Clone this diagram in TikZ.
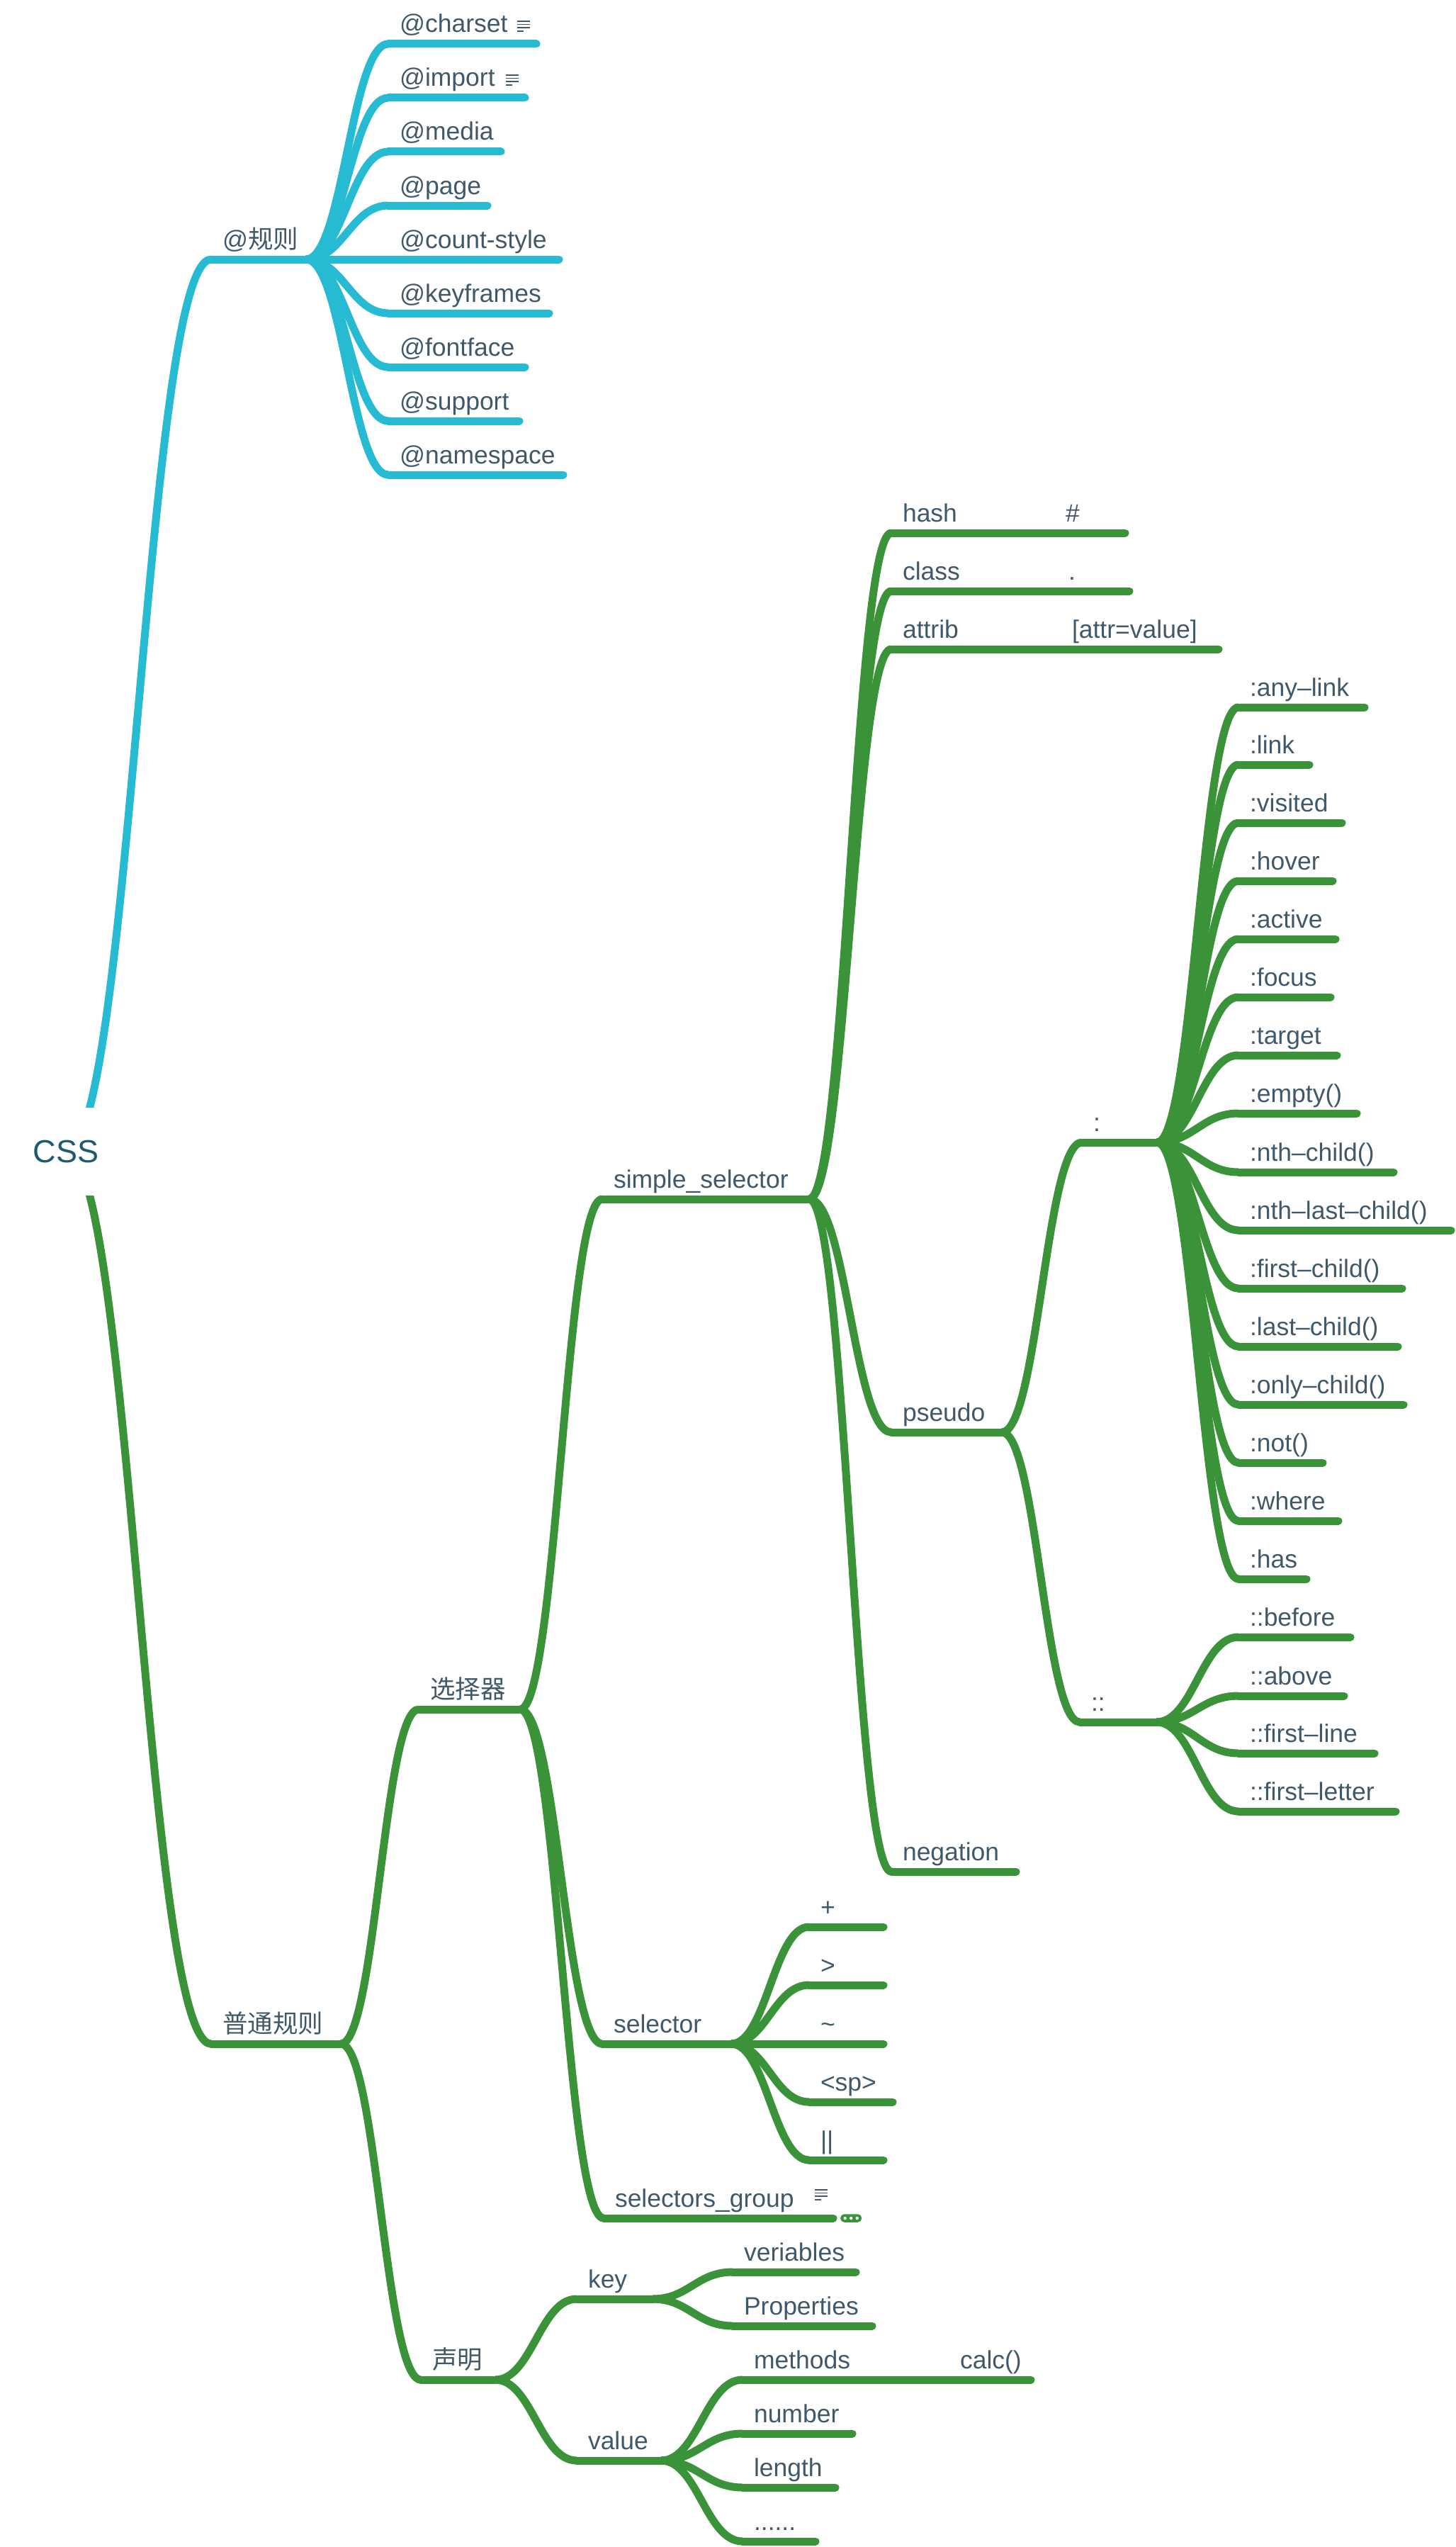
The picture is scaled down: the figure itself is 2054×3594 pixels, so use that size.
\documentclass[tikz,border=0pt]{standalone}
\usepackage{fontspec}
\setmainfont{Liberation Sans}
\newfontfamily\cjk{Noto Sans CJK SC}
\usetikzlibrary{calc}
\definecolor{atblue}{HTML}{26BBD3}
\definecolor{rulegreen}{HTML}{3A9338}
\definecolor{ink}{HTML}{40596A}
\definecolor{rootink}{HTML}{1C5A70}
\tikzset{
  topic/.style={anchor=south west, outer sep=0pt, inner xsep=16pt, inner ysep=7pt,
    text height=27pt, text depth=9pt, align=left, text=ink,
    font=\fontsize{35.5}{40}\selectfont, text width={#1pt-32pt}},
  bluetopic/.style={topic=#1, append after command={(\tikzlastnode.south west)
    edge[draw=atblue, line width=11pt, line cap=round] (\tikzlastnode.south east)}},
  greentopic/.style={topic=#1, append after command={(\tikzlastnode.south west)
    edge[draw=rulegreen, line width=11pt, line cap=round] (\tikzlastnode.south east)}},
  branch/.style={to path={let \p1=(\tikztostart), \p2=(\tikztotarget),
    \n1={0.45*(\x2-\x1)} in .. controls (\x1+\n1,\y1) and (\x2-\n1,\y2) .. (\tikztotarget)}},
  rootnode/.style={fill=white, text=rootink, font=\fontsize{45}{50}\selectfont,
    minimum width=140pt, minimum height=124pt, inner sep=0pt},
  morepill/.style={fill=rulegreen, rounded corners=5.5pt, minimum width=30pt,
    minimum height=11.5pt, inner sep=0pt, anchor=west}
}
\newcommand{\noteicon}[2]{%
  \foreach \i/\w in {0/18,1/18,2/18,3/9}
    \draw[ink, line width=1.5pt] (#1,#2+\i*4.6) -- (#1+\w,#2+\i*4.6);}
\begin{document}
\begin{tikzpicture}[x=1pt,y=-1pt]
  \useasboundingbox (0,0) rectangle (2054,3594);
  \coordinate (origin) at (93,1625);
  % blue side
  \path
    (298,366) node[bluetopic=134] (atrule) {@{\cjk 规则}}
    (548,62) node[bluetopic=209] (charset) {@charset}
    (548,138) node[bluetopic=193] (import) {@import}
    (548,214) node[bluetopic=159] (media) {@media}
    (548,290) node[bluetopic=140] (page) {@page}
    (548,366) node[bluetopic=241] (countstyle) {@count-style}
    (548,442) node[bluetopic=227] (keyframes) {@keyframes}
    (548,518) node[bluetopic=193] (fontface) {@fontface}
    (548,594) node[bluetopic=185] (support) {@support}
    (548,670) node[bluetopic=247] (namespace) {@namespace};
  \begin{scope}[atblue, line width=11pt]
    \draw (origin) to[branch] (atrule.south west);
    \foreach \kid in {charset,import,media,page,countstyle,keyframes,fontface,support,namespace}
      \draw (atrule.south east) to[branch] (\kid.south west);
  \end{scope}
  % green side
  \path
    (298,2884) node[greentopic=183] (general) {\cjk 普通规则}
    (591,2412) node[greentopic=143] (selectors) {\cjk 选择器}
    (594,3358) node[greentopic=105] (declare) {\cjk 声明}
    (850,1692) node[greentopic=292] (simple) {simple\_selector}
    (850,2884) node[greentopic=182] (selector) {selector}
    (852,3130) node[greentopic=324] (group) {selectors\_group}
    (1258,752) node[greentopic=230] (hash) {hash}
    (1488,752) node[greentopic=100] (hashsign) {\#}
    (1258,834) node[greentopic=234] (class) {class}
    (1492,834) node[greentopic=102] (dot) {.}
    (1258,916) node[greentopic=239] (attrib) {attrib}
    (1497,916) node[greentopic=223] (attrvalue) {[attr=value]}
    (1258,2021) node[greentopic=156] (pseudo) {pseudo}
    (1258,2641) node[greentopic=176] (negation) {negation}
    (1527,1612) node[greentopic=106] (colon) {:}
    (1524,2430) node[greentopic=108] (dcolon) {::}
    (1748,998) node[greentopic=178] (anylink) {:any–link}
    (1748,1079) node[greentopic=100] (link) {:link}
    (1748,1161) node[greentopic=146] (visited) {:visited}
    (1748,1243) node[greentopic=133] (hover) {:hover}
    (1748,1325) node[greentopic=137] (active) {:active}
    (1748,1407) node[greentopic=130] (focus) {:focus}
    (1748,1489) node[greentopic=139] (target) {:target}
    (1748,1571) node[greentopic=167] (empty) {:empty()}
    (1748,1654) node[greentopic=219] (nthchild) {:nth–child()}
    (1748,1736) node[greentopic=300] (nthlast) {:nth–last–child()}
    (1748,1818) node[greentopic=231] (firstchild) {:first–child()}
    (1748,1900) node[greentopic=225] (lastchild) {:last–child()}
    (1748,1982) node[greentopic=233] (onlychild) {:only–child()}
    (1748,2064) node[greentopic=119] (not) {:not()}
    (1748,2146) node[greentopic=141] (where) {:where}
    (1748,2228) node[greentopic=96] (has) {:has}
    (1748,2310) node[greentopic=158] (before) {::before}
    (1748,2393) node[greentopic=149] (above) {::above}
    (1748,2474) node[greentopic=192] (firstline) {::first–line}
    (1748,2556) node[greentopic=222] (firstletter) {::first–letter}
    (1142,2719) node[greentopic=105] (plus) {+}
    (1142,2801) node[greentopic=105] (greater) {>}
    (1142,2884) node[greentopic=105] (tilde) {\textasciitilde}
    (1142,2966) node[greentopic=118] (space) {<sp>}
    (1142,3048) node[greentopic=105] (bars) {||}
    (814,3244) node[greentopic=107] (key) {key}
    (814,3472) node[greentopic=119] (value) {value}
    (1034,3206) node[greentopic=174] (veriables) {veriables}
    (1034,3282) node[greentopic=197] (properties) {Properties}
    (1048,3358) node[greentopic=291] (methods) {methods}
    (1339,3358) node[greentopic=116] (calc) {calc()}
    (1048,3434) node[greentopic=155] (number) {number}
    (1048,3510) node[greentopic=131] (length) {length}
    (1048,3586) node[greentopic=103] (etc) {......};
  \begin{scope}[rulegreen, line width=11pt]
    \draw (origin) to[branch] (general.south west);
    \draw (general.south east) to[branch] (selectors.south west);
    \draw (general.south east) to[branch] (declare.south west);
    \draw (selectors.south east) to[branch] (simple.south west);
    \draw (selectors.south east) to[branch] (selector.south west);
    \draw (selectors.south east) to[branch] (group.south west);
    \draw (simple.south east) to[branch] (hash.south west);
    \draw (simple.south east) to[branch] (class.south west);
    \draw (simple.south east) to[branch] (attrib.south west);
    \draw (simple.south east) to[branch] (pseudo.south west);
    \draw (simple.south east) to[branch] (negation.south west);
    \draw (hash.south east) to[branch] (hashsign.south west);
    \draw (class.south east) to[branch] (dot.south west);
    \draw (attrib.south east) to[branch] (attrvalue.south west);
    \draw (pseudo.south east) to[branch] (colon.south west);
    \draw (pseudo.south east) to[branch] (dcolon.south west);
    \foreach \kid in {anylink,link,visited,hover,active,focus,target,empty,nthchild,
      nthlast,firstchild,lastchild,onlychild,not,where,has}
      \draw (colon.south east) to[branch] (\kid.south west);
    \foreach \kid in {before,above,firstline,firstletter}
      \draw (dcolon.south east) to[branch] (\kid.south west);
    \foreach \kid in {plus,greater,tilde,space,bars}
      \draw (selector.south east) to[branch] (\kid.south west);
    \draw (declare.south east) to[branch] (key.south west);
    \draw (declare.south east) to[branch] (value.south west);
    \draw (key.south east) to[branch] (veriables.south west);
    \draw (key.south east) to[branch] (properties.south west);
    \foreach \kid in {methods,number,length,etc}
      \draw (value.south east) to[branch] (\kid.south west);
    \draw (methods.south east) to[branch] (calc.south west);
  \end{scope}
  \node[rootnode] (root) at (origin) {CSS};
  % notes and the folded mark
  \noteicon{730}{30}
  \noteicon{714}{106}
  \noteicon{1150}{3090}
  \node[morepill] (more) at (1186,3130) {};
  \foreach \dx in {-8.5,0,8.5}
    \fill[white] ($(more.center)+(\dx,0)$) circle (2.2pt);
\end{tikzpicture}
\end{document}
